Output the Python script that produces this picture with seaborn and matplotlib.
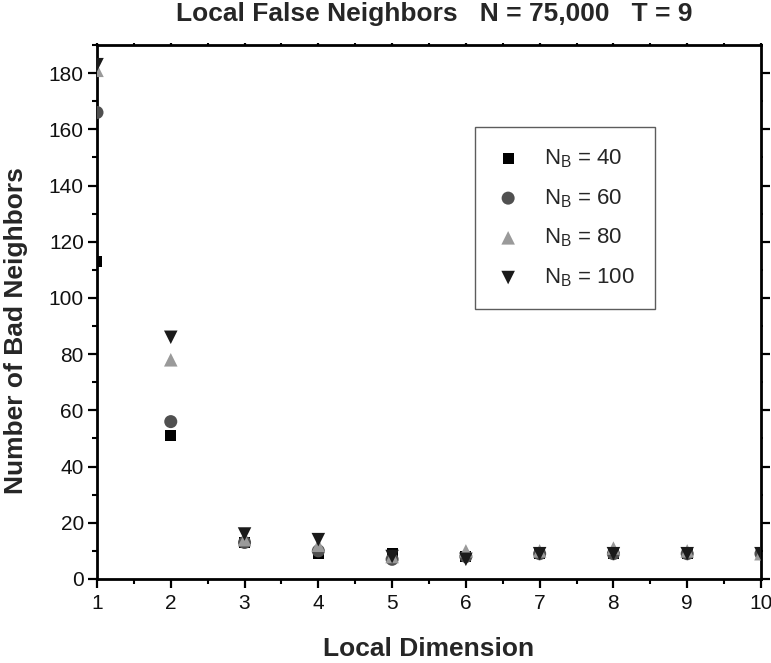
import numpy as np
import pandas as pd
import matplotlib
matplotlib.use("Agg")
import matplotlib.pyplot as plt
import seaborn as sns
from matplotlib.ticker import MultipleLocator

# Local false-neighbor counts per local dimension for several neighborhood sizes N_B
dimensions = [1, 2, 3, 4, 5, 6, 7, 8, 9, 10]
nb_40 = [113, 51, 13, 9, 9, 8, 9, 9, 9, 9]
nb_60 = [166, 56, 13, 10, 7, 8, 9, 9, 9, 9]
nb_80 = [181, 78, 14, 12, 8, 10, 10, 11, 10, 9]
nb_100 = [183, 86, 16, 14, 8, 7, 9, 9, 9, 9]

series_labels = [r"$\mathregular{N_B}$ = 40", r"$\mathregular{N_B}$ = 60",
                 r"$\mathregular{N_B}$ = 80", r"$\mathregular{N_B}$ = 100"]
series_values = [nb_40, nb_60, nb_80, nb_100]
series_markers = ["s", "o", "^", "v"]
series_colors = ["#000000", "#505050", "#9a9a9a", "#1a1a1a"]
series_sizes = [62, 88, 95, 95]

frames = []
for label, vals in zip(series_labels, series_values):
    frames.append(pd.DataFrame({"dim": dimensions, "bad": vals, "series": label}))
df = pd.concat(frames, ignore_index=True)

sns.set_theme(style="ticks")
plt.rcParams["font.family"] = ["Liberation Sans", "DejaVu Sans"]
plt.rcParams["mathtext.fontset"] = "custom"
plt.rcParams["mathtext.rm"] = "Liberation Sans"
plt.rcParams["mathtext.it"] = "Liberation Sans:italic"
plt.rcParams["mathtext.bf"] = "Liberation Sans:bold"

fig = plt.figure(figsize=(7.71, 6.63), dpi=100)
ax = fig.add_axes([0.1258, 0.1267, 0.8612, 0.8054])

for label, marker, color, size in zip(series_labels, series_markers, series_colors, series_sizes):
    sub = df[df["series"] == label]
    sns.scatterplot(data=sub, x="dim", y="bad", marker=marker, color=color,
                    s=size, edgecolor="none", linewidth=0, ax=ax, label=label,
                    clip_on=True, zorder=3)

ax.set_xlim(1, 10)
ax.set_ylim(0, 190)
ax.xaxis.set_major_locator(MultipleLocator(1))
ax.xaxis.set_minor_locator(MultipleLocator(0.5))
ax.yaxis.set_major_locator(MultipleLocator(20))
ax.yaxis.set_minor_locator(MultipleLocator(10))

for side in ["left", "right", "top", "bottom"]:
    ax.spines[side].set_visible(True)
    ax.spines[side].set_linewidth(2.0)
    ax.spines[side].set_color("black")

ax.tick_params(axis="both", which="major", direction="out", length=6.5, width=1.6,
               color="black", labelsize=15, labelcolor="#111111", pad=3)
ax.tick_params(axis="both", which="minor", direction="out", length=3.8, width=1.5,
               color="black")
ax.tick_params(axis="x", which="both", top=True, labeltop=False)
ax.tick_params(axis="y", which="both", right=True, labelright=False)
ax.tick_params(axis="x", which="major", pad=4)

# short outward ticks on the top and right edges
for t in ax.xaxis.get_major_ticks() + ax.xaxis.get_minor_ticks():
    t.tick2line.set_markersize(1.5)
for t in ax.yaxis.get_minor_ticks():
    t.tick2line.set_markersize(1.5)

ax.set_xlabel("Local Dimension", fontsize=19, fontweight="bold", va="baseline")
ax.xaxis.set_label_coords(0.5, -0.144)
ax.set_ylabel("Number of Bad Neighbors", fontsize=19, fontweight="bold", va="center")
ax.yaxis.set_label_coords(-0.122, 0.466)
fig.text(0.563, 0.979, "Local False Neighbors   N = 75,000   T = 9", fontsize=19,
         fontweight="bold", ha="center", va="center")

leg = ax.legend(loc="upper left", bbox_to_anchor=(0.569, 0.846), fontsize=16,
                frameon=True, fancybox=False, borderpad=0.9, labelspacing=0.77,
                handletextpad=1.0, markerscale=1.0, handlelength=1.2,
                borderaxespad=0)
leg.get_frame().set_edgecolor("#333333")
leg.get_frame().set_linewidth(1.0)

fig.savefig("out.png", dpi=100, facecolor="white")
